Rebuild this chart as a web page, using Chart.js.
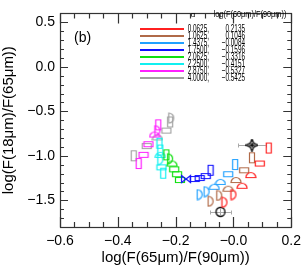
<!DOCTYPE html>
<html><head><meta charset="utf-8">
<script src="https://cdn.jsdelivr.net/npm/chart.js@4.4.1/dist/chart.umd.min.js"></script>
<style>html,body{margin:0;padding:0;background:#fff;overflow:hidden}#wrap{width:307px;height:271px}</style>
</head><body><div id="wrap"><canvas id="c" width="307" height="271"></canvas></div>
<script>
// ---------------- data ----------------
const alphaValues = ['0.0625','1.0625','1.4375','1.7500','2.0625','2.2500','2.8750','4.0000'];
const logF60F90  = ['0.2135','0.1046','\u22120.0084','\u22120.1596','\u22120.3316','\u22120.4151','\u22120.5327','\u22120.5425'];

const redX   = [0.122, 0.091, 0.060, 0.030, 0.000, -0.031];
const redY   = [-0.913, -1.087, -1.217, -1.337, -1.435, -1.522];
const brownX = [0.064, 0.037, 0.009, -0.018, -0.049, -0.079];
const brownY = [-1.022, -1.163, -1.272, -1.370, -1.446, -1.511];
const lblueX = [0.006, -0.018, -0.045, -0.066, -0.093, -0.117];
const lblueY = [-1.098, -1.207, -1.293, -1.348, -1.402, -1.435];
const blueX  = [-0.079, -0.096, -0.117, -0.134, -0.164];
const blueY  = [-1.163, -1.228, -1.250, -1.261, -1.261];
const greenX = [-0.232, -0.219, -0.212, -0.205, -0.195, -0.185];
const greenY = [-0.989, -1.033, -1.087, -1.152, -1.207, -1.272];
const cyanX  = [-0.256, -0.253, -0.253, -0.253, -0.249, -0.243];
const cyanY  = [-0.859, -0.935, -0.989, -1.043, -1.130, -1.196];
const magX   = [-0.260, -0.263, -0.273, -0.294, -0.311, -0.328];
const magY   = [-0.652, -0.717, -0.761, -0.870, -0.989, -1.087];
const grayX  = [-0.215, -0.219, -0.232, -0.263, -0.300, -0.345];
const grayY  = [-0.576, -0.620, -0.717, -0.793, -0.891, -1.000];

const obsX    = [0.064, -0.045];
const obsY    = [-0.880, -1.630];
const obsErrX = [0.048, 0.036];
const obsErrY = [0.025, 0.035];

const xTickValues = [-0.6, -0.4, -0.2, 0.0, 0.2];
const xTickLabels = ['\u22120.6','\u22120.4','\u22120.2','\u22120.0','0.2'];
const yTickValues = [0.5, 0.0, -0.5, -1.0, -1.5];
const yTickLabels = ['0.5','0.0','\u22120.5','\u22121.0','\u22121.5'];

// ---------------- styles ----------------
const seriesColors = ['#ff2020','#b06a48','#20a0ff','#1010ff','#10e010','#10f0f0','#ff20ff','#a0a0a0'];
const shapeSeq = [
  ['tall','wide','dome','dome','D','D'],
  ['tall','wide','dome','dome','D','D'],
  ['tall','wide','dome','dome','D','D'],
  ['tall','wide','wide','wide','bow'],
  ['tall','D','dome','wide','wide','wide'],
  ['tall','tall','dome','D','wide','tall'],
  ['tall','D','dome','wide','wide','tall'],
  ['D','tall','wide','dome','wide','tall']
];
const FONT = 'Liberation Sans, Arial, Helvetica, sans-serif';

function makeShape(kind, color){
  const c = document.createElement('canvas');
  let w, h;
  if (kind==='tall'){w=8;h=13;} else if (kind==='wide'){w=12;h=8;}
  else if (kind==='dome'){w=12;h=8;} else if (kind==='D'){w=8;h=12;}
  else if (kind==='bow'){w=12;h=10;} else if (kind==='circle'){w=12;h=12;}
  else {w=13;h=13;}
  c.width=w; c.height=h;
  const g = c.getContext('2d');
  g.strokeStyle=color; g.lineWidth=1.2;
  g.beginPath();
  if (kind==='tall' || kind==='wide'){ g.rect(1.5,1.5,w-3,h-3); }
  else if (kind==='dome'){ g.moveTo(1,h-1.5); g.lineTo(w-1,h-1.5); g.arc(w/2,h-1.5,w/2-1,0,Math.PI,true); g.closePath(); }
  else if (kind==='D'){ g.moveTo(1.5,1); g.lineTo(1.5,h-1); g.arc(1.5,h/2,h/2-1,Math.PI/2,-Math.PI/2,true); g.closePath(); }
  else if (kind==='bow'){ g.moveTo(1.5,1.5); g.lineTo(w-1.5,h-1.5); g.lineTo(w-1.5,1.5); g.lineTo(1.5,h-1.5); g.closePath(); }
  else if (kind==='circle'){ g.lineWidth=1.3; g.arc(w/2,h/2,w/2-1.5,0,Math.PI*2); }
  else { // star: concave diamond with centre cross
    g.lineWidth=1.3;
    const cx=w/2, cy=h/2;
    g.moveTo(cx,0.5); g.lineTo(cx+1.8,cy-1.8); g.lineTo(w-0.5,cy); g.lineTo(cx+1.8,cy+1.8);
    g.lineTo(cx,h-0.5); g.lineTo(cx-1.8,cy+1.8); g.lineTo(0.5,cy); g.lineTo(cx-1.8,cy-1.8); g.closePath();
    g.moveTo(cx,cy-2); g.lineTo(cx,cy+2); g.moveTo(cx-2,cy); g.lineTo(cx+2,cy);
  }
  g.stroke();
  return c;
}

const xs = [redX, brownX, lblueX, blueX, greenX, cyanX, magX, grayX];
const ys = [redY, brownY, lblueY, blueY, greenY, cyanY, magY, grayY];
const datasets = xs.map((X,i)=>({
  label: 'alpha ' + alphaValues[i],
  data: X.map((v,j)=>({x:v, y:ys[i][j]})),
  pointStyle: shapeSeq[i].map(k=>makeShape(k, seriesColors[i])),
  pointRadius: 5, showLine:false
}));
datasets.push({
  label:'obs',
  data: obsX.map((v,j)=>({x:v, y:obsY[j]})),
  pointStyle: [makeShape('star','#000'), makeShape('circle','#000')],
  pointRadius: 5, showLine:false, errX: obsErrX, errY: obsErrY
});

const FRAME = '#333';
const decor = {
  id:'decor',
  beforeDatasetsDraw(chart){
    const ctx = chart.ctx;
    const di = chart.data.datasets.length-1;
    const ds = chart.data.datasets[di];
    const meta = chart.getDatasetMeta(di);
    const xs_ = chart.scales.x, ys_ = chart.scales.y;
    ctx.save(); ctx.strokeStyle='#a8a8a8'; ctx.lineWidth=1;
    meta.data.forEach((p,j)=>{
      const x1 = xs_.getPixelForValue(ds.data[j].x - ds.errX[j]);
      const x2 = xs_.getPixelForValue(ds.data[j].x + ds.errX[j]);
      const y1 = ys_.getPixelForValue(ds.data[j].y - ds.errY[j]);
      const y2 = ys_.getPixelForValue(ds.data[j].y + ds.errY[j]);
      const py = Math.round(p.y)+0.5, px = Math.round(p.x)+0.5;
      ctx.beginPath();
      ctx.moveTo(x1,py); ctx.lineTo(x2,py);
      ctx.moveTo(Math.round(x1)+0.5,py-2); ctx.lineTo(Math.round(x1)+0.5,py+2);
      ctx.moveTo(Math.round(x2)+0.5,py-2); ctx.lineTo(Math.round(x2)+0.5,py+2);
      ctx.moveTo(px,y1); ctx.lineTo(px,y2);
      ctx.stroke();
    });
    ctx.restore();
  },
  afterDraw(chart){
    const ctx = chart.ctx, a = chart.chartArea;
    const sx = chart.scales.x, sy = chart.scales.y;
    ctx.save();
    ctx.strokeStyle=FRAME; ctx.lineWidth=1.2;
    ctx.strokeRect(Math.round(a.left)+0.5, Math.round(a.top)+0.5, Math.round(a.right-a.left), Math.round(a.bottom-a.top));
    ctx.beginPath();
    for (let k=0;k<=16;k++){
      const v = -0.6 + k*0.05;
      const px = Math.round(sx.getPixelForValue(v))+0.5;
      const major = (k%4===0);
      const L = major?10:5;
      ctx.moveTo(px,a.bottom); ctx.lineTo(px,a.bottom-L);
      ctx.moveTo(px,a.top); ctx.lineTo(px,a.top+L);
    }
    for (let k=0;k<=24;k++){
      const v = -1.8 + k*0.1;
      const py = Math.round(sy.getPixelForValue(v))+0.5;
      const major = (Math.abs(Math.round(v*10))%5===0);
      const L = major?8:4;
      ctx.moveTo(a.left,py); ctx.lineTo(a.left+L,py);
      ctx.moveTo(a.right,py); ctx.lineTo(a.right-L,py);
    }
    ctx.stroke();
    ctx.fillStyle='#000'; ctx.font='14px '+FONT; ctx.textAlign='left'; ctx.textBaseline='middle';
    ctx.fillText('(b)', a.left+14, a.top+25);
    // legend
    ctx.font='8px '+FONT; ctx.textAlign='center';
    ctx.fillText('\u03b1', 193, 15);
    ctx.save(); ctx.translate(250,15); ctx.scale(0.92,1.05);
    ctx.fillText('log(F(60\u03bcm)/F(90\u03bcm))', 0, 0); ctx.restore();
    for (let i=0;i<alphaValues.length;i++){
      const ly = 29 + i*7.05;
      ctx.strokeStyle = seriesColors[i]; ctx.lineWidth=1.8;
      ctx.beginPath(); ctx.moveTo(140,Math.round(ly)); ctx.lineTo(184,Math.round(ly)); ctx.stroke();
      ctx.save(); ctx.font='10px '+FONT; ctx.textAlign='right'; ctx.fillStyle='#000';
      ctx.translate(209, ly); ctx.scale(0.64,1); ctx.fillText(alphaValues[i]+',',0,0); ctx.restore();
      ctx.save(); ctx.font='10px '+FONT; ctx.textAlign='right'; ctx.fillStyle='#000';
      ctx.translate(245, ly); ctx.scale(0.64,1); ctx.fillText(logF60F90[i],0,0); ctx.restore();
    }
    ctx.restore();
  }
};

new Chart(document.getElementById('c'), {
  type:'scatter',
  data:{datasets},
  options:{
    responsive:false, animation:false, devicePixelRatio:1,
    layout:{padding:{left:0,right:12,top:5,bottom:0}},
    plugins:{legend:{display:false}, tooltip:{enabled:false}},
    scales:{
      x:{type:'linear', min:-0.6, max:0.2,
        afterBuildTicks:s=>{s.ticks = xTickValues.map(v=>({value:v}));},
        ticks:{callback:(v,i)=>xTickLabels[i], font:{family:FONT,size:14}, color:'#000', padding:6, maxRotation:0, autoSkip:false},
        grid:{display:false, drawTicks:false}, border:{display:false},
        title:{display:true, text:'log(F(65\u03bcm)/F(90\u03bcm))', font:{family:FONT,size:15}, color:'#000', padding:{top:4,bottom:4}},
        afterFit:s=>{s.height=44;}
      },
      y:{type:'linear', min:-1.8, max:0.6,
        afterBuildTicks:s=>{s.ticks = yTickValues.map(v=>({value:v}));},
        ticks:{callback:(v,i)=>yTickLabels[i], font:{family:FONT,size:14}, color:'#000', padding:5, autoSkip:false},
        grid:{display:false, drawTicks:false}, border:{display:false},
        title:{display:true, text:'log(F(18\u03bcm)/F(65\u03bcm))', font:{family:FONT,size:15}, color:'#000', padding:{top:0,bottom:0}},
        afterFit:s=>{s.width=60;}
      }
    }
  },
  plugins:[decor]
});
</script></body></html>
